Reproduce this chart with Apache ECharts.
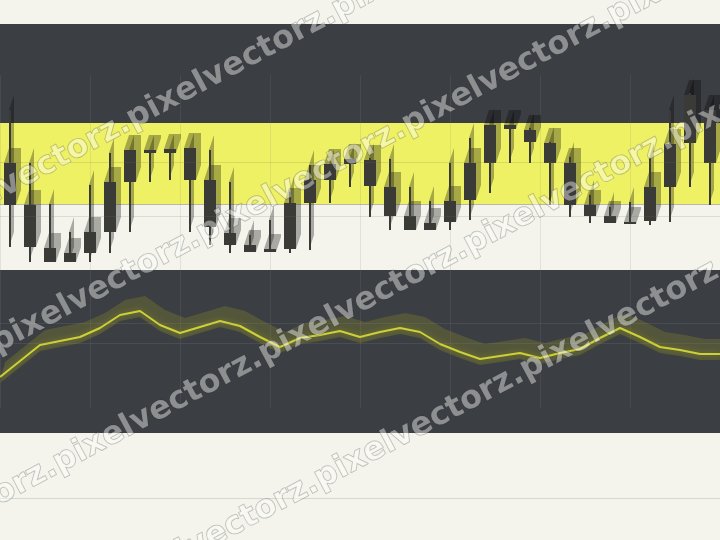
<!DOCTYPE html>
<html><head><meta charset="utf-8">
<script src="https://cdn.jsdelivr.net/npm/echarts@6/dist/echarts.min.js"></script>
<style>html,body{margin:0;padding:0;background:#f4f4ec}#c{width:720px;height:540px}</style>
</head><body><div id="c"></div>
<script>
// ---- data ----
const candleCats = ['1','2','3','4','5','6','7','8','9','10','11','12','13','14','15','16','17','18',
  '19','20','21','22','23','24','25','26','27','28','29','30','31','32','33','34','35','36'];
const opens  = [107,65,22,8,17,38,88,117,117,122,90,37,25,18,21,67,90,106,110,83,54,40,48,70,107,145,140,127,107,65,54,46,49,83,127,160];
const closes = [65,23,8,17,38,88,120,120,121,90,43,25,18,21,67,90,106,111,84,54,40,47,69,107,145,141,128,107,65,54,47,48,83,126,175,107];
const lows   = [23,8,8,8,8,17,38,88,90,38,25,17,18,18,17,20,67,83,53,40,40,40,40,50,77,107,107,65,53,47,47,46,45,48,83,65];
const highs  = [160,107,66,38,85,117,120,120,121,122,120,88,35,50,78,105,106,111,112,111,83,69,107,132,145,145,142,128,113,75,63,68,112,160,177,160];

const lineCats = ['1','2','3','4','5','6','7','8','9','10','11','12','13','14','15','16','17','18','19',
  '20','21','22','23','24','25','26','27','28','29','30','31','32','33','34','35','36','37'];
const lineVals = [31,47,63,67,71,80,93,97,83,75,81,87,82,71,61,70,73,77,71,76,80,76,64,56,49,52,55,50,55,59,70,80,71,61,58,54,54];

const topGuides = [54,108];
const bottomGuides = [65,85];
const watermark = 'pixelvectorz.';

// ---- render ----
const DX = 5, DY = -15;
const SHADOW = 'rgba(0,0,0,0.3)';
const DARK = '#3a3b37';

function renderCandle(params, api) {
  const i = api.value(0);
  const o = api.value(1), c = api.value(2), lo = api.value(3), hi = api.value(4);
  const pT = api.coord([i, Math.max(o, c)]);
  const pB = api.coord([i, Math.min(o, c)]);
  const pH = api.coord([i, hi]);
  const pL = api.coord([i, lo]);
  const cx = pT[0];
  const bw = api.size([1, 0])[0] * 0.6;
  const x0 = cx - bw / 2, x1 = cx + bw / 2;
  let yt = pT[1], yb = pB[1];
  if (yb - yt < 2) yb = yt + 2;
  return {
    type: 'group',
    children: [
      { type: 'polygon', shape: { points: [[cx - 1, pL[1]], [cx - 1, pH[1]], [cx - 1 + DX, pH[1] + DY], [cx - 1 + DX, pL[1] + DY]] }, style: { fill: SHADOW } },
      { type: 'polygon', shape: { points: [[x0, yb], [x0, yt], [x0 + DX, yt + DY], [x1 + DX, yt + DY], [x1 + DX, yb + DY], [x1, yb]] }, style: { fill: SHADOW } },
      { type: 'rect', shape: { x: cx - 1, y: pH[1], width: 2, height: pL[1] - pH[1] }, style: { fill: DARK } },
      { type: 'rect', shape: { x: x0, y: yt, width: bw, height: yb - yt }, style: { fill: DARK } }
    ]
  };
}

function renderBand(params, api) {
  if (params.dataIndex !== 0) return null;
  const pts = lineVals.map((v, k) => api.coord([k, v]));
  const lower = pts.map(p => [p[0], p[1] + 6]);
  const upper = pts.map(p => [p[0] + DX, p[1] + DY]).reverse();
  return { type: 'polygon', shape: { points: lower.concat(upper) }, style: { fill: 'rgba(175,180,30,0.21)' } };
}

const bands = [
  { type: 'rect', shape: { x: 0, y: 24, width: 720, height: 99 }, style: { fill: '#3b3e43' }, z: -10 },
  { type: 'rect', shape: { x: 0, y: 123, width: 720, height: 81 }, style: { fill: '#eef163' }, z: -10 },
  { type: 'line', shape: { x1: 0, y1: 204.5, x2: 720, y2: 204.5 }, style: { stroke: '#b9b9a6', lineWidth: 1 }, z: -9 },
  { type: 'rect', shape: { x: 0, y: 270, width: 720, height: 163 }, style: { fill: '#3b3e43' }, z: -10 },
  { type: 'line', shape: { x1: 0, y1: 498.5, x2: 720, y2: 498.5 }, style: { stroke: '#d8d8cf', lineWidth: 1 }, z: -9 }
];

const ANG = 28 * Math.PI / 180;
const SL = Math.tan(ANG);
const wmLines = [[-282, 190], [-212, 342], [-150, 495], [-94, 650]];
const wm = wmLines.map(([sx, b]) => ({
  type: 'text', x: sx, y: b - SL * sx, rotation: ANG, z: 100, silent: true,
  style: {
    text: watermark.repeat(6), font: 'bold 32px "DejaVu Sans"',
    fill: 'rgba(255,255,255,0.42)', stroke: 'rgba(40,40,40,0.3)', lineWidth: 1,
    textVerticalAlign: 'middle', verticalAlign: 'middle'
  }
}));

const hiddenAxis = { axisLine: { show: false }, axisTick: { show: false }, axisLabel: { show: false }, splitLine: { show: false } };
const vSplit = { type: 'value', min: 0, max: 8, interval: 1, axisLine: { show: false }, axisTick: { show: false }, axisLabel: { show: false },
  splitLine: { show: true, lineStyle: { color: 'rgba(128,128,128,0.16)', width: 1 } } };

const chart = echarts.init(document.getElementById('c'), null, { renderer: 'canvas' });
chart.setOption({
  backgroundColor: '#f4f4ec',
  animation: false,
  graphic: bands.concat(wm),
  grid: [
    { left: 0, right: 0, top: 75, height: 195 },
    { left: 0, right: 0, top: 270, height: 138 }
  ],
  xAxis: [
    Object.assign({ type: 'category', data: candleCats, gridIndex: 0, boundaryGap: true }, hiddenAxis),
    Object.assign({ gridIndex: 0 }, vSplit),
    Object.assign({ type: 'category', data: lineCats, gridIndex: 1, boundaryGap: false }, hiddenAxis),
    Object.assign({ gridIndex: 1 }, vSplit)
  ],
  yAxis: [
    Object.assign({ type: 'value', gridIndex: 0, min: 0, max: 195 }, hiddenAxis),
    Object.assign({ type: 'value', gridIndex: 1, min: 0, max: 138 }, hiddenAxis)
  ],
  series: [
    {
      type: 'custom', xAxisIndex: 0, yAxisIndex: 0, clip: false,
      renderItem: renderCandle,
      encode: { x: 0, y: [1, 2, 3, 4] },
      data: candleCats.map((c, i) => [i, opens[i], closes[i], lows[i], highs[i]]),
      markLine: { silent: true, symbol: ['none', 'none'], label: { show: false },
        lineStyle: { color: 'rgba(110,110,90,0.18)', type: 'solid', width: 1 },
        data: topGuides.map(v => ({ yAxis: v })) },
      z: 3
    },
    {
      type: 'custom', xAxisIndex: 2, yAxisIndex: 1, clip: false,
      renderItem: renderBand,
      encode: { x: 0, y: 1 },
      data: lineVals.map((v, k) => [k, v]),
      z: 2
    },
    {
      type: 'line', xAxisIndex: 2, yAxisIndex: 1, data: lineVals, symbol: 'none',
      lineStyle: { color: '#cdd036', width: 2, shadowColor: 'rgba(190,195,40,0.45)', shadowBlur: 6 },
      markLine: { silent: true, symbol: ['none', 'none'], label: { show: false },
        lineStyle: { color: 'rgba(150,150,150,0.16)', type: 'solid', width: 1 },
        data: bottomGuides.map(v => ({ yAxis: v })) },
      z: 4
    }
  ]
});
</script>
</body></html>
